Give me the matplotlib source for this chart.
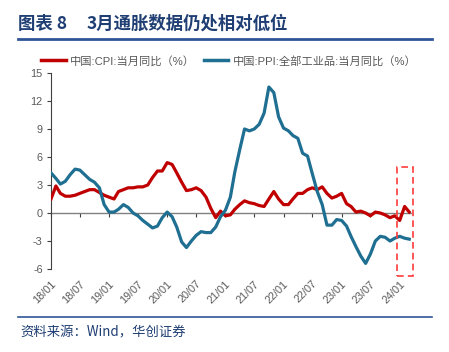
import matplotlib
matplotlib.use("Agg")
import matplotlib.pyplot as plt
import matplotlib.dates as mdates
from matplotlib.patches import Rectangle
from matplotlib.lines import Line2D
import pandas as pd

plt.rcParams['font.family'] = ['Liberation Sans', 'Noto Sans CJK SC', 'DejaVu Sans']

months = pd.date_range('2018-01-01', periods=75, freq='MS')
cpi = [1.5, 2.9, 2.1, 1.8, 1.8, 1.9, 2.1, 2.3, 2.5, 2.5, 2.2, 1.9,
       1.7, 1.5, 2.3, 2.5, 2.7, 2.7, 2.8, 2.8, 3.0, 3.8, 4.5, 4.5,
       5.4, 5.2, 4.3, 3.3, 2.4, 2.5, 2.7, 2.4, 1.7, 0.5, -0.5, 0.2,
       -0.3, -0.2, 0.4, 0.9, 1.3, 1.1, 1.0, 0.8, 0.7, 1.5, 2.3, 1.5,
       0.9, 0.9, 1.5, 2.1, 2.1, 2.5, 2.7, 2.5, 2.8, 2.1, 1.6, 1.8,
       2.1, 1.0, 0.7, 0.1, 0.2, 0.0, -0.3, 0.1, 0.0, -0.2, -0.5, -0.3,
       -0.8, 0.7, 0.1]
ppi = [4.3, 3.7, 3.1, 3.4, 4.1, 4.7, 4.6, 4.1, 3.6, 3.3, 2.7, 0.9,
       0.1, 0.1, 0.4, 0.9, 0.6, 0.0, -0.3, -0.8, -1.2, -1.6, -1.4, -0.5,
       0.1, -0.4, -1.5, -3.1, -3.7, -3.0, -2.4, -2.0, -2.1, -2.1, -1.5, -0.4,
       0.3, 1.7, 4.4, 6.8, 9.0, 8.8, 9.0, 9.5, 10.7, 13.5, 12.9, 10.3,
       9.1, 8.8, 8.3, 8.0, 6.4, 6.1, 4.2, 2.3, 0.9, -1.3, -1.3, -0.7,
       -0.8, -1.4, -2.5, -3.6, -4.6, -5.4, -4.4, -3.0, -2.5, -2.6, -3.0, -2.7,
       -2.5, -2.7, -2.8]
labels = ['中国:CPI:当月同比（%）', '中国:PPI:全部工业品:当月同比（%）']
yticks = [-6, -3, 0, 3, 6, 9, 12, 15]
title_num = '图表 8'
title = '3月通胀数据仍处相对低位'
source = '资料来源：Wind，华创证券'

RED = '#C00000'
BLUE = '#1F6F92'
GREY = '#595959'
NAVY = '#1F3E73'

fig = plt.figure(figsize=(4.49, 3.52), dpi=100)
ax = fig.add_axes([51/449, 1-269/352, (411-51)/449, (269-73)/352])

ax.plot(months, cpi, color=RED, lw=2.3, solid_joinstyle='round', zorder=3)
ax.plot(months, ppi, color=BLUE, lw=2.3, solid_joinstyle='round', zorder=3)

x0 = pd.Timestamp('2018-01-01')
x1 = pd.Timestamp('2024-03-12')
ax.set_xlim(x0, x1)
ax.set_ylim(-6, 15)
ax.set_yticks(yticks)
ax.set_yticklabels([str(v) for v in yticks])

xt = pd.date_range('2018-01-01', '2024-01-01', freq='6MS')
ax.set_xticks(xt)
ax.set_xticklabels([d.strftime('%y/%m') for d in xt], rotation=45, ha='right',
                   rotation_mode='anchor')
ax.tick_params(axis='x', length=0, labelsize=7.8, labelcolor=GREY, pad=7)
ax.tick_params(axis='y', length=3, width=0.8, color='#404040', labelsize=7.8,
               labelcolor=GREY, pad=3, direction='out')
for s in ['top', 'right', 'bottom']:
    ax.spines[s].set_visible(False)
ax.spines['left'].set_color('#404040')
ax.spines['left'].set_linewidth(0.8)

# zero axis with ticks
sec = ax.secondary_xaxis(6/21)
sec.set_xticks(xt)
sec.set_xticklabels([])
sec.tick_params(length=3, width=0.8, color='#404040', direction='out')
sec.spines['bottom'].set_color('#808080')
sec.spines['bottom'].set_linewidth(1.0)

# highlight box
bx0 = mdates.date2num(pd.Timestamp('2023-12-12'))
bx1 = mdates.date2num(pd.Timestamp('2024-03-26'))
rect = Rectangle((bx0, -6.75), bx1-bx0, 4.9+6.75, fill=False, edgecolor='#FF3B3B',
                 lw=1.2, ls=(0, (4, 2.5)), clip_on=False, zorder=4)
ax.add_patch(rect)

# legend
handles = [Line2D([], [], color=RED, lw=2.5), Line2D([], [], color=BLUE, lw=2.5)]
fig.legend(handles, labels, loc='center left', bbox_to_anchor=(41/449, 1-61/352), ncol=2,
           frameon=False, labelcolor=GREY, handlelength=2.2,
           handletextpad=0.35, columnspacing=0.8, borderpad=0, borderaxespad=0,
           prop={'family': ['Liberation Sans', 'Noto Sans CJK SC'], 'size': 8.1})

# title and rules
fig.text(18/449, 1-24/352, title_num, fontsize=12.5, fontweight='bold', color=NAVY,
         va='center', ha='left', family=['Noto Sans CJK SC', 'DejaVu Sans'])
fig.text(87/449, 1-24/352, title, fontsize=12.5, fontweight='bold', color=NAVY,
         va='center', ha='left', family=['Noto Sans CJK SC', 'DejaVu Sans'])
fig.add_artist(Line2D([18/449, 432/449], [1-39/352, 1-39/352], color='#2F5597', lw=2.0))
fig.add_artist(Line2D([18/449, 432/449], [1-317/352, 1-317/352], color='#2F5597', lw=1.2))
fig.text(20/449, 1-332/352, source, fontsize=9.6, color=NAVY, va='center', ha='left',
         style='italic', family=['Noto Sans CJK SC', 'DejaVu Sans'])

fig.savefig('out.png', dpi=100)
